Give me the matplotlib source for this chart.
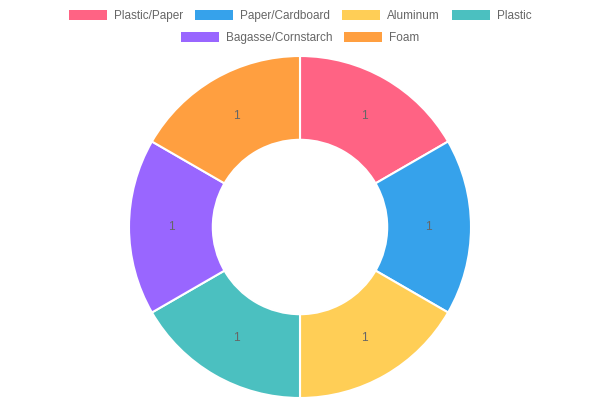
import matplotlib
matplotlib.use("Agg")
import matplotlib.pyplot as plt
from matplotlib.patches import Rectangle

# ── Data ──────────────────────────────────────────────────────────────────────
labels = ["Plastic/Paper", "Paper/Cardboard", "Aluminum", "Plastic",
          "Bagasse/Cornstarch", "Foam"]
values = [1, 1, 1, 1, 1, 1]
colors = ["#FF6384", "#36A2EB", "#FFCE56", "#4BC0C0", "#9966FF", "#FF9F40"]
legend_rows = [[0, 1, 2, 3], [4, 5]]

W, H = 600, 400
plt.rcParams["font.family"] = ["Liberation Sans", "DejaVu Sans"]
fig = plt.figure(figsize=(6, 4), dpi=100)

# doughnut axes: center (300, 227) px, radius 171 px
cx, cy, r = 300, 227, 171
ax = fig.add_axes([(cx - r) / W, (H - cy - r) / H, 2 * r / W, 2 * r / H])
wedges, texts = ax.pie(
    values, colors=colors, startangle=90, counterclock=False, radius=1.0,
    labels=[str(v) for v in values], labeldistance=0.75,
    wedgeprops=dict(width=0.49, edgecolor="white", linewidth=1.5),
    textprops=dict(color="#666666", fontsize=8.6, ha="center", va="center"),
)
ax.set_xlim(-1, 1)
ax.set_ylim(-1, 1)
ax.set_aspect("equal")
ax.axis("off")

# ── Legend (Chart.js style, rows centered) ───────────────────────────────────
fig.canvas.draw()
renderer = fig.canvas.get_renderer()
fs = 8.5
box_w, box_h, txt_gap, item_gap = 38, 10, 7, 12
row_y = [15, 37]
for row, yy in zip(legend_rows, row_y):
    tws = []
    for i in row:
        t = fig.text(0, 0, labels[i], fontsize=fs)
        tws.append(t.get_window_extent(renderer).width)
        t.remove()
    total = sum(box_w + txt_gap + tw for tw in tws) + item_gap * (len(row) - 1)
    x = W / 2 - total / 2
    for i, tw in zip(row, tws):
        fig.patches.append(Rectangle((x / W, (H - yy - box_h / 2) / H),
                                     box_w / W, box_h / H,
                                     transform=fig.transFigure,
                                     facecolor=colors[i], edgecolor="none"))
        fig.text((x + box_w + txt_gap) / W, (H - yy - 0.5) / H, "%s" % labels[i],
                 fontsize=fs, color="#666666", ha="left", va="baseline",
                 transform=fig.transFigure).set_y((H - yy - 4) / H)
        x += box_w + txt_gap + tw + item_gap

fig.savefig("out.png", dpi=100)
